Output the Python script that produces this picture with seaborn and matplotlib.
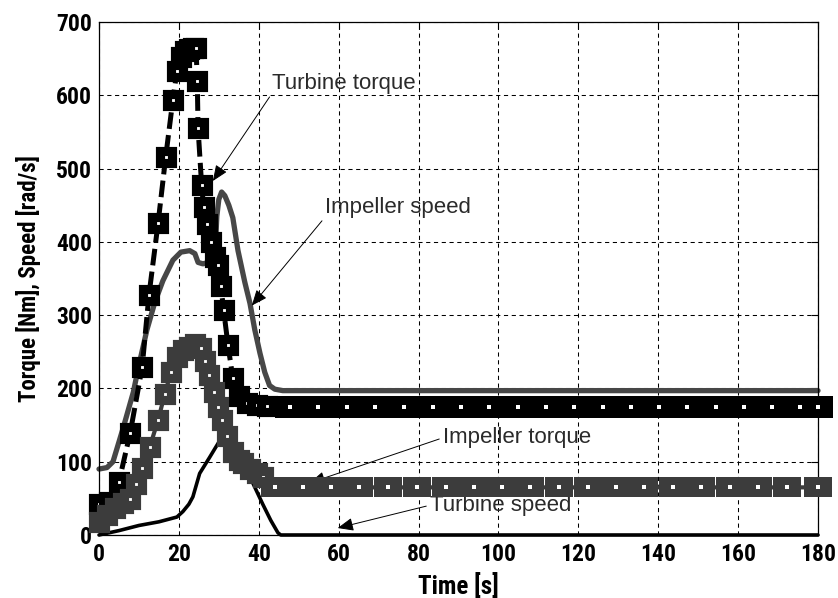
import os
import numpy as np
import pandas as pd
import matplotlib
matplotlib.use("Agg")
import matplotlib.pyplot as plt
import seaborn as sns
from matplotlib.markers import MarkerStyle
from matplotlib.path import Path
from matplotlib import font_manager as fm

# ---------------- data ----------------
# Turbine torque [Nm]
tt_time = [0, 2.5, 5, 7.8, 10.8, 12.5, 14.8, 16.7, 18.5, 19.5, 20.5, 21.5, 22.5, 23.5,
           24.3, 24.6, 24.8, 25.7, 26.2, 27, 28, 29, 29.7, 30.5, 31.2, 32.3, 33.5, 35,
           37, 39.5, 42,
           47.8, 54.9, 62, 69.1, 76.3, 83.5, 90.6, 97.7, 104.8, 111.9, 119, 126.1,
           133.2, 140.2, 147.3, 154.4, 161.5, 168.5, 175.6, 180]
tt_val = [42, 45, 73, 139, 229, 327, 426, 516, 594, 633, 652, 660, 663, 664,
          664, 620, 555, 477, 447, 425, 400, 380, 368, 340, 307, 259, 214, 190,
          180, 177, 176,
          175, 175, 175, 175, 175, 175, 175, 175, 175, 175, 175, 175,
          175, 175, 175, 175, 175, 175, 175, 175]

# Impeller speed [rad/s]
is_time = [0, 2, 3.5, 6, 8.6, 10, 12, 14, 16, 18.5, 20.5, 22.7, 24, 24.8, 26, 27.5,
           28.7, 29.2, 29.5, 30, 30.7, 31.5, 32.5, 33.5, 34.8, 36.5, 37.8, 39, 40.3,
           41.5, 42.7, 44, 46, 180]
is_val = [90, 92, 100, 145, 195, 232, 280, 318, 347, 375, 386, 388, 384, 372, 370, 372,
          374, 400, 435, 458, 468, 463, 450, 433, 388, 345, 316, 280, 248,
          222, 204, 199, 197, 197]

# Impeller torque [Nm]
it_time = [0, 2, 4, 6, 7.8, 9.3, 10.7, 12.7, 14.8, 16.5, 18, 19.5, 21, 22.5, 24, 25.5,
           26.5, 27.5, 28.7, 29.8, 30.8, 32, 33.5, 35, 36, 37.8, 39.5, 41,
           44, 51, 58, 65.2, 72.3, 79.5, 86.8, 94, 101, 108, 115.2, 122.3, 129.5,
           136.5, 143.6, 150.6, 158, 165, 172.3, 180]
it_val = [18, 27, 37, 43, 49, 70, 91, 120, 157, 193, 222, 243, 252, 256, 260, 255,
          238, 218, 195, 175, 157, 135, 113, 103, 98, 90, 84, 79,
          65, 65, 65, 65, 65, 65, 65, 65, 65, 65, 65, 65, 65,
          65, 65, 65, 65, 65, 65, 65]

# Turbine speed [rad/s]
ts_time = [0, 5, 10, 15, 19.5, 21, 22.5, 23.5, 25.2, 27.7, 30.25, 31.75, 34, 36, 38.5,
           41, 43, 44.8, 45.5, 180]
ts_val = [0, 6, 13, 18, 24.5, 32, 42, 52, 84, 106, 129, 142, 120, 98, 71,
          42, 20, 3, 0, 0]

x_ticks = [0, 20, 40, 60, 80, 100, 120, 140, 160, 180]
y_ticks = [0, 100, 200, 300, 400, 500, 600, 700]

# ---------------- style ----------------
sns.set_theme(style="white")
plt.rcParams["font.family"] = ["Liberation Sans", "DejaVu Sans"]
plt.rcParams["lines.scale_dashes"] = False


def narrow_bold_font():
    """Find an installed condensed bold sans font (for MATLAB-like tick labels)."""
    prefs = ["liberation sans narrow", "arial narrow", "roboto condensed",
             "noto sans condensed", "open sans condensed", "nimbus sans narrow"]
    best = None
    for f in fm.fontManager.ttflist:
        nm = f.name.lower()
        fn = os.path.basename(f.fname).lower()
        stretch = str(f.stretch).lower()
        cond = ("narrow" in nm or "condensed" in nm or "narrow" in fn or
                "condensed" in fn or stretch in ("condensed", "semi-condensed",
                                                 "extra-condensed"))
        w = f.weight if isinstance(f.weight, int) else fm.weight_dict.get(f.weight, 400)
        if not cond or w < 600 or f.style != "normal" or "mono" in nm or "serif" in nm and "sans" not in nm:
            continue
        rank = 50
        for i, p in enumerate(prefs):
            if p in nm or p.replace(" ", "") in fn:
                rank = i
        if "dejavu" in nm:
            rank = 40
        if best is None or rank < best[0]:
            best = (rank, f.fname)
    return best


nb = narrow_bold_font()
if nb is not None and nb[0] < 40:
    FP = lambda size: fm.FontProperties(fname=nb[1], size=size)
    TICK_SIZE, XL_SIZE, YL_SIZE = 17, 18, 16.5
elif nb is not None:
    FP = lambda size: fm.FontProperties(fname=nb[1], size=size)
    TICK_SIZE, XL_SIZE, YL_SIZE = 15, 16, 14.5
else:
    FP = lambda size: fm.FontProperties(family="Liberation Sans", weight="bold", size=size)
    TICK_SIZE, XL_SIZE, YL_SIZE = 15.5, 16.5, 14

GRAY = "#3c3c3c"
LGRAY = "#474747"

fig = plt.figure(figsize=(8.38, 5.98), dpi=100)
ax = fig.add_axes([99 / 838, 1 - 535 / 598, (818 - 99) / 838, (535 - 22) / 598])

sq = MarkerStyle("s", joinstyle="miter")
rect = MarkerStyle(Path([(-0.72, -0.5), (0.72, -0.5), (0.72, 0.5), (-0.72, 0.5), (-0.72, -0.5)],
                        [Path.MOVETO, Path.LINETO, Path.LINETO, Path.LINETO, Path.CLOSEPOLY]),
                   joinstyle="miter")

# 1) impeller speed
sns.lineplot(x=is_time, y=is_val, ax=ax, color=LGRAY, lw=3.8, zorder=2,
             solid_joinstyle="round", clip_on=False)

# 2) turbine torque
tt_t = np.array(tt_time)
tt_rise = list(np.where(tt_t < 45)[0])
tt_steady = list(np.where(tt_t >= 45)[0])
sns.lineplot(x=tt_time, y=tt_val, ax=ax, color="black", lw=3.6, zorder=3,
             linestyle=(0, (12, 4.5)), clip_on=False)
sns.lineplot(x=tt_time, y=tt_val, ax=ax, color="black", linestyle="none", zorder=3,
             marker=sq, markersize=8.0, markeredgewidth=6.6, markerfacecolor="white",
             markeredgecolor="black", markevery=tt_rise, clip_on=False)
sns.lineplot(x=tt_time, y=tt_val, ax=ax, color="black", linestyle="none", zorder=3,
             marker=rect, markersize=21.8, markeredgewidth=0, markerfacecolor="black",
             markeredgecolor="black", markevery=tt_steady, clip_on=False)
sns.lineplot(x=tt_time, y=tt_val, ax=ax, color="white", linestyle="none", zorder=3,
             marker=sq, markersize=2.2, markeredgewidth=0, markerfacecolor="white",
             markeredgecolor="white", markevery=tt_steady, clip_on=False)

# 3) turbine speed
sns.lineplot(x=ts_time, y=ts_val, ax=ax, color="black", lw=2.6, zorder=4, clip_on=False)

# 4) impeller torque
it_t = np.array(it_time)
it_rise = list(np.where(it_t < 43)[0])
it_steady = list(np.where(it_t >= 43)[0])
sns.lineplot(x=it_time, y=it_val, ax=ax, color=GRAY, lw=3.0, zorder=5, clip_on=False)
sns.lineplot(x=it_time, y=it_val, ax=ax, color=GRAY, linestyle="none", zorder=5,
             marker=sq, markersize=8.0, markeredgewidth=6.6, markerfacecolor="white",
             markeredgecolor=GRAY, markevery=it_rise, clip_on=False)
sns.lineplot(x=it_time, y=it_val, ax=ax, color=GRAY, linestyle="none", zorder=5,
             marker=rect, markersize=20.8, markeredgewidth=0, markerfacecolor=GRAY,
             markeredgecolor=GRAY, markevery=it_steady, clip_on=False)
sns.lineplot(x=it_time, y=it_val, ax=ax, color="white", linestyle="none", zorder=5,
             marker=sq, markersize=2.2, markeredgewidth=0, markerfacecolor="white",
             markeredgecolor="white", markevery=it_steady, clip_on=False)

# ---------------- axes ----------------
ax.set_xlim(0, 180)
ax.set_ylim(0, 700)
ax.set_xticks(x_ticks)
ax.set_yticks(y_ticks)
ax.set_xticklabels([str(v) for v in x_ticks])
ax.set_yticklabels([str(v) for v in y_ticks])
for lab in ax.get_xticklabels() + ax.get_yticklabels():
    lab.set_fontproperties(FP(TICK_SIZE))
    lab.set_color("black")
ax.tick_params(direction="in", length=5, width=0.8, top=True, right=True,
               colors="black", pad=5)
ax.tick_params(axis="x", pad=6)
ax.grid(True, color="black", linestyle=(0, (3, 2.6)), lw=0.75)
ax.set_axisbelow(True)
for s in ax.spines.values():
    s.set_color("black")
    s.set_linewidth(0.9)

ax.set_xlabel("Time [s]", fontproperties=FP(XL_SIZE), color="black", labelpad=5)
ax.set_ylabel("Torque [Nm], Speed [rad/s]", fontproperties=FP(YL_SIZE),
              color="black", labelpad=11)

# ---------------- annotations ----------------
akw = dict(fontsize=16, color="#2a2a2a", ha="left", textcoords="data")


def arrow(rel):
    return dict(arrowstyle="-|>,head_length=0.6,head_width=0.25", color="black",
                lw=0.7, shrinkA=0, shrinkB=0, relpos=rel)


ax.annotate("Turbine torque", xy=(28.5, 483), xytext=(43.25, 609), va="baseline",
            arrowprops=arrow((0, 0)), **akw)
ax.annotate("Impeller speed", xy=(38.25, 313), xytext=(56.5, 440), va="baseline",
            arrowprops=arrow((0, 0)), **akw)
ax.annotate("Impeller torque", xy=(52.75, 71), xytext=(86, 125), va="baseline",
            arrowprops=arrow((0, 0.5)), **akw)
ax.annotate("Turbine speed", xy=(59.75, 9.5), xytext=(82.75, 33), va="baseline",
            arrowprops=arrow((0, 0.5)), **akw)

fig.savefig("out.png", dpi=100)
